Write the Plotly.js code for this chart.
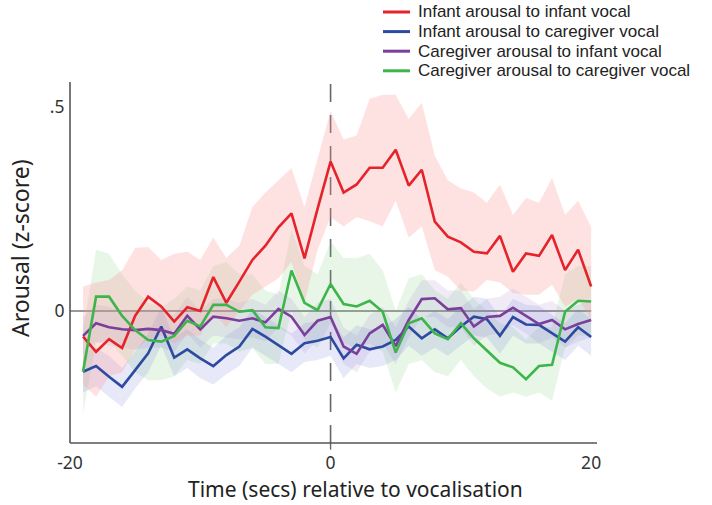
<!DOCTYPE html>
<html>
<head>
<meta charset="utf-8">
<script src="https://cdn.plot.ly/plotly-3.0.1.min.js"></script>
<style>html,body{margin:0;padding:0;background:#fff;}#chart{width:712px;height:505px;}</style>
</head>
<body>
<div id="chart"></div>
<script>
// Time (secs) relative to vocalisation
const timeSecs = [-19,-18,-17,-16,-15,-14,-13,-12,-11,-10,-9,-8,-7,-6,-5,-4,-3,-2,-1,0,1,2,3,4,5,6,7,8,9,10,11,12,13,14,15,16,17,18,19,20];

const seriesNames = [
  "Infant arousal to infant vocal",
  "Infant arousal to caregiver vocal",
  "Caregiver arousal to infant vocal",
  "Caregiver arousal to caregiver vocal"
];

const xTitle = "Time (secs) relative to vocalisation";
const yTitle = "Arousal (z-score)";

// Infant arousal to infant vocal
const infInfMean  = [-0.063,-0.10,-0.069,-0.091,-0.012,0.035,0.011,-0.026,0.009,0.0,0.083,0.02,0.072,0.125,0.16,0.205,0.239,0.129,0.25,0.366,0.29,0.31,0.351,0.351,0.395,0.307,0.346,0.219,0.182,0.168,0.145,0.141,0.184,0.096,0.141,0.135,0.186,0.10,0.15,0.06];
const infInfUpper = [0.06,0.07,0.076,0.10,0.154,0.157,0.125,0.14,0.145,0.125,0.18,0.13,0.16,0.255,0.29,0.32,0.35,0.255,0.37,0.49,0.42,0.43,0.52,0.53,0.53,0.47,0.51,0.38,0.32,0.30,0.29,0.265,0.31,0.235,0.277,0.265,0.326,0.235,0.27,0.206];
const infInfLower = [-0.18,-0.21,-0.16,-0.15,-0.095,-0.07,-0.06,-0.08,-0.06,-0.06,-0.005,-0.04,0.0,0.04,0.06,0.08,0.12,0.02,0.15,0.23,0.207,0.23,0.22,0.207,0.27,0.18,0.207,0.10,0.084,0.05,0.047,0.076,0.07,0.044,0.04,0.04,0.064,0.01,0.03,-0.02];

// Infant arousal to caregiver vocal
const infCgMean  = [-0.149,-0.135,-0.161,-0.186,-0.145,-0.104,-0.038,-0.114,-0.094,-0.116,-0.135,-0.108,-0.087,-0.044,-0.063,-0.083,-0.105,-0.079,-0.073,-0.064,-0.116,-0.083,-0.094,-0.087,-0.071,-0.038,-0.067,-0.045,-0.067,-0.038,-0.014,-0.02,-0.061,-0.015,-0.033,-0.034,-0.055,-0.075,-0.04,-0.064];
const infCgUpper = [-0.10,-0.09,-0.11,-0.14,-0.10,-0.055,0.01,-0.065,-0.045,-0.07,-0.09,-0.06,-0.04,0.005,-0.015,-0.035,-0.055,-0.03,-0.025,-0.015,-0.065,-0.035,-0.045,-0.04,-0.02,0.01,-0.02,0.0,-0.02,0.01,0.035,0.03,-0.015,0.03,0.015,0.012,-0.01,-0.03,0.005,-0.02];
const infCgLower = [-0.20,-0.185,-0.21,-0.235,-0.19,-0.15,-0.085,-0.16,-0.14,-0.165,-0.18,-0.155,-0.135,-0.09,-0.11,-0.13,-0.15,-0.125,-0.12,-0.11,-0.165,-0.13,-0.14,-0.135,-0.12,-0.085,-0.11,-0.09,-0.11,-0.085,-0.06,-0.065,-0.105,-0.06,-0.08,-0.08,-0.10,-0.12,-0.085,-0.11];

// Caregiver arousal to infant vocal
const cgInfMean  = [-0.061,-0.03,-0.04,-0.045,-0.047,-0.044,-0.047,-0.056,-0.012,-0.045,-0.014,-0.018,-0.024,-0.018,-0.028,0.005,-0.014,-0.059,-0.024,-0.015,-0.087,-0.105,-0.055,-0.034,-0.086,-0.022,0.029,0.031,0.004,0.007,-0.038,-0.015,-0.012,0.008,-0.012,-0.032,-0.022,-0.045,-0.032,-0.022];
const cgInfUpper = [-0.015,0.015,0.01,0.0,-0.002,0.005,-0.002,-0.01,0.035,0.0,0.03,0.03,0.02,0.03,0.015,0.05,0.03,-0.015,0.02,0.03,-0.04,-0.06,-0.01,0.01,-0.04,0.025,0.075,0.075,0.05,0.05,0.005,0.03,0.035,0.055,0.035,0.015,0.025,0.0,0.015,0.025];
const cgInfLower = [-0.105,-0.075,-0.085,-0.09,-0.095,-0.09,-0.09,-0.10,-0.055,-0.09,-0.06,-0.065,-0.07,-0.065,-0.075,-0.04,-0.06,-0.105,-0.07,-0.06,-0.13,-0.15,-0.10,-0.08,-0.13,-0.065,-0.015,-0.015,-0.04,-0.04,-0.085,-0.06,-0.055,-0.035,-0.055,-0.08,-0.065,-0.09,-0.075,-0.065];

// Caregiver arousal to caregiver vocal
const cgCgMean  = [-0.149,0.035,0.035,-0.012,-0.047,-0.071,-0.075,-0.061,-0.024,-0.038,0.015,0.015,-0.002,0.002,-0.04,-0.042,0.099,0.02,0.002,0.066,0.017,0.011,0.025,-0.002,-0.102,-0.03,-0.018,-0.055,-0.069,-0.03,-0.067,-0.096,-0.127,-0.138,-0.167,-0.135,-0.132,-0.002,0.025,0.023];
const cgCgUpper = [-0.05,0.15,0.14,0.09,0.05,0.02,0.01,0.03,0.06,0.05,0.11,0.12,0.09,0.09,0.05,0.04,0.20,0.11,0.09,0.17,0.13,0.13,0.14,0.10,0.0,0.08,0.09,0.05,0.03,0.07,0.03,0.0,-0.03,-0.04,-0.07,-0.04,-0.04,0.09,0.11,0.11];
const cgCgLower = [-0.25,-0.08,-0.07,-0.11,-0.15,-0.17,-0.17,-0.16,-0.12,-0.13,-0.08,-0.08,-0.10,-0.09,-0.13,-0.13,0.0,-0.07,-0.09,-0.03,-0.08,-0.09,-0.08,-0.10,-0.20,-0.13,-0.12,-0.15,-0.16,-0.12,-0.16,-0.19,-0.21,-0.20,-0.21,-0.20,-0.22,-0.09,-0.06,-0.06];

const xTickVals = [-20, 0, 20];
const xTickText = ["-20", "0", "20"];
const yTickVals = [0, 0.5];
const yTickText = ["0", ".5"];

const lineColors = ["#e5232a", "#2c4aa0", "#7a3e9b", "#3db54a"];
const bandColors = ["rgba(250,150,150,0.28)", "rgba(110,120,210,0.16)", "rgba(150,110,200,0.14)", "rgba(120,200,120,0.17)"];

const means  = [infInfMean, infCgMean, cgInfMean, cgCgMean];
const uppers = [infInfUpper, infCgUpper, cgInfUpper, cgCgUpper];
const lowers = [infInfLower, infCgLower, cgInfLower, cgCgLower];

const xRange = [-20, 20.45];
const yRange = [-0.3235, 0.583];
const yAxisTop = 0.561;

const W = 712, H = 505;
const M = {l: 70, r: 115, t: 73, b: 62};
const plotW = W - M.l - M.r, plotH = H - M.t - M.b;
const px2paperX = p => (p - M.l) / plotW;
const px2paperY = p => (H - M.b - p) / plotH;

const traces = [];
// confidence bands (drawn first)
[3, 2, 1, 0].forEach(i => {
  traces.push({
    type: "scatter", mode: "lines",
    x: timeSecs.concat(timeSecs.slice().reverse()),
    y: uppers[i].concat(lowers[i].slice().reverse()),
    fill: "toself", fillcolor: bandColors[i],
    line: {width: 0, color: "rgba(0,0,0,0)"},
    hoverinfo: "skip", showlegend: false
  });
});
// mean lines
[0, 1, 2, 3].forEach(i => {
  traces.push({
    type: "scatter", mode: "lines",
    x: timeSecs, y: means[i], name: seriesNames[i],
    line: {color: lineColors[i], width: 2.6},
    showlegend: false
  });
});

const font = "Noto Sans, Open Sans, sans-serif";
const legendFont = "Liberation Sans, Arial, sans-serif";
const zeroPaperX = (0 - xRange[0]) / (xRange[1] - xRange[0]);

// legend: line sample + label per series
const legendRowsPx = [12, 31.6, 51.2, 70.8];
const legendLineX = [383, 410];
const legendTextX = 416;
const annotations = [];
const shapes = [];
seriesNames.forEach((name, i) => {
  annotations.push({
    xref: "paper", yref: "paper", x: px2paperX(legendTextX), y: px2paperY(legendRowsPx[i]),
    xanchor: "left", yanchor: "middle", showarrow: false, text: name,
    font: {family: legendFont, size: 17, color: "#222"}
  });
  shapes.push({
    type: "line", xref: "paper", yref: "paper",
    x0: px2paperX(legendLineX[0]), x1: px2paperX(legendLineX[1]),
    y0: px2paperY(legendRowsPx[i]), y1: px2paperY(legendRowsPx[i]),
    line: {color: lineColors[i], width: 3}
  });
});

// axis titles
annotations.push({
  xref: "paper", yref: "paper", x: px2paperX(355), y: px2paperY(489),
  xanchor: "center", yanchor: "middle", showarrow: false, text: xTitle,
  font: {family: font, size: 21, color: "#222"}
});
annotations.push({
  xref: "paper", yref: "paper", x: px2paperX(20), y: px2paperY(248),
  xanchor: "center", yanchor: "middle", showarrow: false, text: yTitle, textangle: -90,
  font: {family: font, size: 23, color: "#222"}
});

shapes.push(
  {type: "line", xref: "x", yref: "y", x0: -20, x1: 20, y0: 0, y1: 0, line: {color: "#777", width: 1.5}, layer: "below"},
  {type: "line", xref: "paper", yref: "paper", x0: zeroPaperX, x1: zeroPaperX, y0: 0, y1: 1, line: {color: "#666", width: 1.6, dash: "18px,13px"}, layer: "below"},
  {type: "line", xref: "paper", yref: "paper", x0: zeroPaperX, x1: zeroPaperX, y0: 0, y1: -0.018, line: {color: "#666", width: 1.4}},
  {type: "line", xref: "paper", yref: "paper", x0: 0, x1: 0, y0: 0, y1: (yAxisTop - yRange[0]) / (yRange[1] - yRange[0]), line: {color: "#555", width: 1.6}},
  {type: "line", xref: "paper", yref: "paper", x0: 0, x1: 1, y0: 0, y1: 0, line: {color: "#555", width: 1.6}}
);

const layout = {
  width: W, height: H,
  margin: M,
  paper_bgcolor: "#fff", plot_bgcolor: "#fff",
  font: {family: font, color: "#333"},
  showlegend: false,
  xaxis: {
    range: xRange, showgrid: false, zeroline: false, showline: false,
    tickvals: xTickVals, ticktext: xTickText,
    ticks: "outside", ticklen: 4, tickcolor: "rgba(0,0,0,0)",
    tickfont: {family: font, size: 17.5, color: "#333"},
    fixedrange: true
  },
  yaxis: {
    range: yRange, showgrid: false, zeroline: false, showline: false,
    tickvals: yTickVals, ticktext: yTickText,
    ticks: "outside", ticklen: 1, tickcolor: "rgba(0,0,0,0)",
    tickfont: {family: font, size: 17.5, color: "#333"},
    fixedrange: true
  },
  shapes: shapes,
  annotations: annotations
};

Plotly.newPlot("chart", traces, layout, {displayModeBar: false, staticPlot: true});
</script>
</body>
</html>
